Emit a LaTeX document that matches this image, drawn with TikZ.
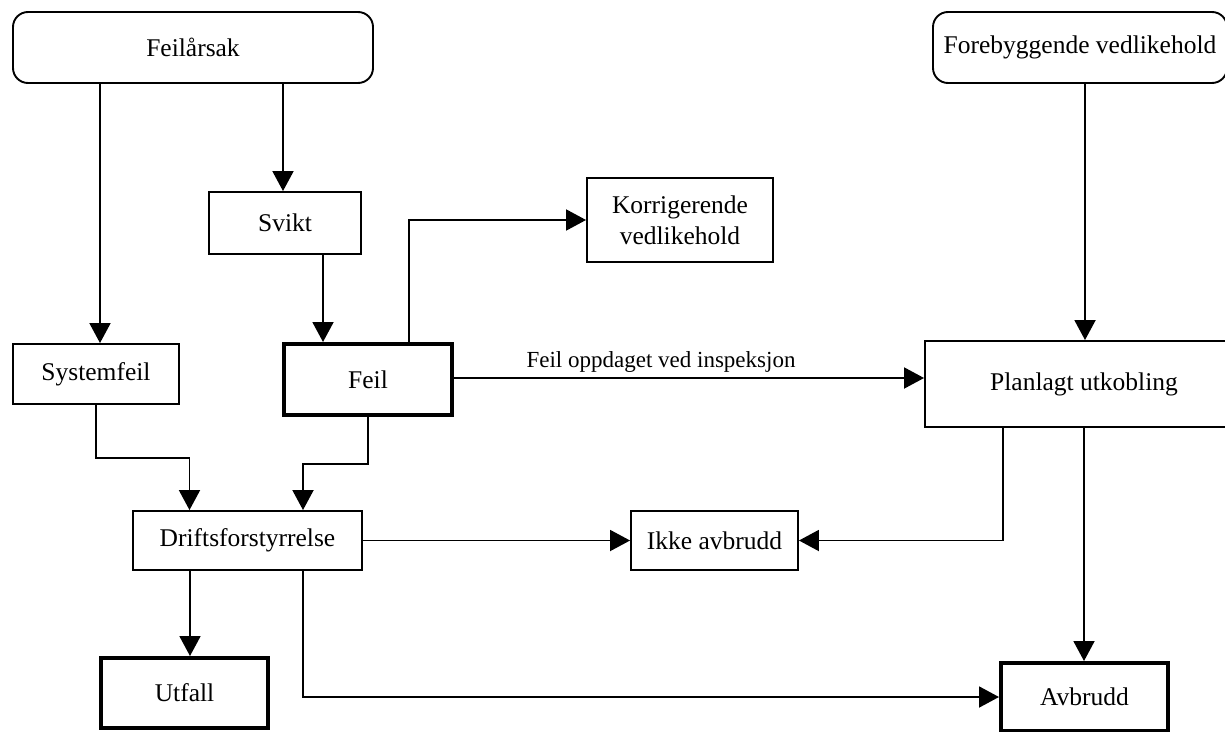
\documentclass[tikz,border=0pt]{standalone}
\usepackage{fontspec}
\setmainfont{Liberation Serif}
\usetikzlibrary{arrows.meta}
\begin{document}
\begin{tikzpicture}[x=1pt,y=-1pt,
  txt/.style={font=\fontsize{25.5}{31}\selectfont},
  box/.style={draw,line width=1.9pt,inner sep=0pt,txt,align=center},
  thickbox/.style={box,line width=4pt},
  roundbox/.style={box,rounded corners=15pt},
  arr/.style={line width=1.9pt,-{Triangle[length=20pt,width=21pt]}},
  line/.style={line width=1.9pt}]
\useasboundingbox (0,0) rectangle (1225,731);
\node[roundbox,minimum width=360pt,minimum height=71pt] (fa) at (193,47.5) {Feilårsak};
\node[roundbox,minimum width=294pt,minimum height=71pt] (fv) at (1080,47.5) {Forebyggende vedlikehold};
\node[box,minimum width=152pt,minimum height=62pt] (svikt) at (285,223) {Svikt};
\node[box,minimum width=166pt,minimum height=60pt] (sys) at (96,374) {Systemfeil};
\node[thickbox,minimum width=168pt,minimum height=71pt] (feil) at (368,379.5) {Feil};
\node[box,minimum width=186pt,minimum height=84pt] (kor) at (680,220) {Korrigerende\\vedlikehold};
\node[box,minimum width=318pt,minimum height=86pt] (plan) at (1084,384) {Planlagt utkobling};
\node[box,minimum width=167pt,minimum height=59pt] (ikke) at (714.5,540.5) {Ikke avbrudd};
\node[box,minimum width=229pt,minimum height=59pt] (drift) at (247.5,540.5) {Driftsforstyrrelse};
\node[thickbox,minimum width=167pt,minimum height=70pt] (utfall) at (184.5,693) {Utfall};
\node[thickbox,minimum width=167pt,minimum height=68pt] (avb) at (1084.5,697) {Avbrudd};

\draw[arr] ([xshift=-93pt]fa.south) -- ([xshift=-93pt]fa.south |- sys.north);
\draw[arr] ([xshift=90pt]fa.south) -- ([xshift=90pt]fa.south |- svikt.north);
\draw[arr] ([xshift=38pt]svikt.south) -- ([xshift=38pt]svikt.south |- feil.north);
\draw[arr] ([xshift=5pt]fv.south) -- ([xshift=5pt]fv.south |- plan.north);
\draw[arr] ([xshift=41pt]feil.north) |- (kor.west);
\draw[arr] (feil.east |- 0,378) -- node[above=1pt,xshift=-28pt,font=\fontsize{23}{27}\selectfont] (lbl) {Feil oppdaget ved inspeksjon} (plan.west |- 0,378);
\draw[arr] (sys.south) -- ++(0,53) -| ([xshift=-58pt]drift.north);
\draw[arr] (feil.south) -- ++(0,47) -| ([xshift=55.5pt]drift.north);
\draw[arr] (drift.east) -- (ikke.west);
\draw[arr] ([xshift=-81pt]plan.south) |- (ikke.east);
\draw[arr] (plan.south) -- (plan.south |- avb.north);
\draw[arr] ([xshift=-57.5pt]drift.south) -- ([xshift=-57.5pt]drift.south |- utfall.north);
\draw[arr] ([xshift=55.5pt]drift.south) |- (avb.west);
\end{tikzpicture}
\end{document}
